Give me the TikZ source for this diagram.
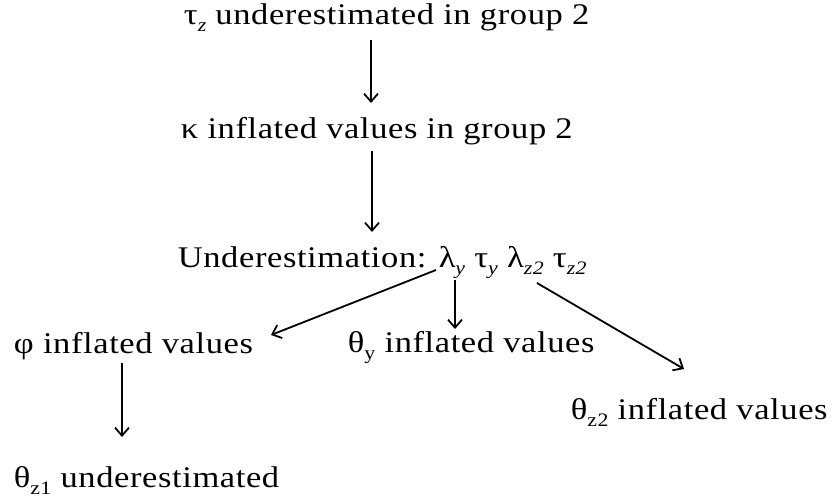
\documentclass[tikz,border=0pt]{standalone}
\usepackage{fontspec}
\setmainfont{Liberation Serif}[FakeStretch=1.15, LetterSpace=2]
\usepackage{tikz}
\usetikzlibrary{arrows.meta}

\newcommand{\sub}[1]{\raisebox{-7pt}{\fontsize{19}{21}\selectfont #1}}

\begin{document}
\begin{tikzpicture}[x=1pt, y=-1pt, line width=1.8pt]
    \tikzstyle{txt} = [inner sep=0pt, anchor=base west, font=\fontsize{30}{34}\selectfont]
    \tikzstyle{line} = [draw, -{Straight Barb[length=8pt, width=14pt]}]
    \useasboundingbox (0,0) rectangle (832,503);

    \node [txt] (tauz) at (183,25) {τ\sub{\itshape z} underestimated in group 2};
    \node [txt] (kappa) at (180,138) {κ inflated values in group 2};
    \node [txt] (under) at (177,267) {Underestimation: λ\sub{\itshape y} τ\sub{\itshape y} λ\sub{\itshape z2} τ\sub{\itshape z2}};
    \node [txt] (phi) at (13,353) {φ inflated values};
    \node [txt] (thetay) at (347,352) {θ\sub{y} inflated values};
    \node [txt] (thetaztwo) at (570,419) {θ\sub{z2} inflated values};
    \node [txt] (thetazone) at (13,487) {θ\sub{z1} underestimated};

    \path [line] ([shift={(188,15)}]tauz.base west) -- ([shift={(191,-35)}]kappa.base west);
    \path [line] ([shift={(192,13)}]kappa.base west) -- ([shift={(195,-35)}]under.base west);
    \path [line] ([shift={(259,3)}]under.base west) -- ([shift={(258,-18)}]phi.base west);
    \path [line] ([shift={(278,13)}]under.base west) -- ([shift={(108,-23)}]thetay.base west);
    \path [line] ([shift={(360,16)}]under.base west) -- ([shift={(114,-50)}]thetaztwo.base west);
    \path [line] ([shift={(109,10)}]phi.base west) -- ([shift={(109,-50)}]thetazone.base west);
\end{tikzpicture}
\end{document}
